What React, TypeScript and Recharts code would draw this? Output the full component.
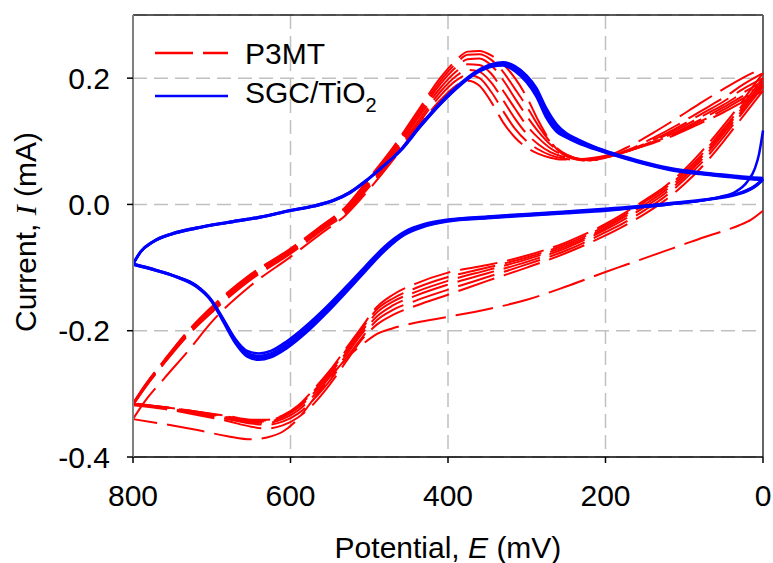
import React from 'react';
import { LineChart, Line, XAxis, YAxis, CartesianGrid, ReferenceLine } from 'recharts';

// potentials (mV) for each half sweep
const redUpE = [800, 785, 760, 730, 700, 650, 600, 560, 530, 500, 470, 440, 410, 390, 375, 360, 345, 330, 315, 300, 285, 270, 255, 240, 220, 200, 170, 140, 110, 80, 50, 25, 0];
const redDownE = [0, 15, 30, 50, 75, 100, 125, 150, 175, 200, 250, 300, 350, 400, 440, 470, 490, 510, 530, 550, 570, 590, 610, 630, 650, 680, 720, 760, 800];
const blueUpE = [800, 790, 775, 750, 720, 680, 640, 600, 570, 545, 525, 505, 485, 460, 435, 410, 385, 365, 345, 330, 315, 300, 288, 275, 262, 250, 235, 215, 190, 160, 120, 80, 40, 15, 0];
const blueDownE = [0, 5, 10, 20, 35, 55, 80, 120, 160, 200, 250, 300, 350, 400, 430, 455, 480, 505, 530, 555, 580, 605, 625, 640, 655, 670, 685, 700, 720, 745, 770, 800];

// P3MT currents (mA), sweep 0 -> 800
const p3mtDown1 = [-0.01, -0.024, -0.033, -0.042, -0.052, -0.063, -0.074, -0.085, -0.096, -0.107, -0.13, -0.151, -0.166, -0.178, -0.187, -0.196, -0.205, -0.223, -0.245, -0.275, -0.307, -0.339, -0.36, -0.369, -0.372, -0.367, -0.357, -0.348, -0.34];
const p3mtDown2 = [0.18, 0.156, 0.132, 0.1, 0.063, 0.032, 0.006, -0.015, -0.033, -0.049, -0.077, -0.1, -0.121, -0.143, -0.16, -0.175, -0.19, -0.215, -0.25, -0.285, -0.315, -0.337, -0.35, -0.355, -0.352, -0.343, -0.333, -0.324, -0.318];
const p3mtDown3 = [0.186, 0.163, 0.139, 0.107, 0.07, 0.039, 0.012, -0.009, -0.028, -0.044, -0.073, -0.095, -0.115, -0.135, -0.152, -0.167, -0.183, -0.212, -0.245, -0.279, -0.308, -0.331, -0.344, -0.349, -0.347, -0.34, -0.331, -0.323, -0.317];
const p3mtDown4 = [0.19, 0.167, 0.143, 0.112, 0.075, 0.043, 0.017, -0.004, -0.023, -0.04, -0.069, -0.091, -0.109, -0.127, -0.144, -0.16, -0.177, -0.206, -0.24, -0.273, -0.302, -0.326, -0.34, -0.346, -0.345, -0.338, -0.33, -0.322, -0.316];
const p3mtDown5 = [0.195, 0.171, 0.147, 0.116, 0.079, 0.047, 0.021, 0.0, -0.019, -0.037, -0.066, -0.087, -0.104, -0.121, -0.138, -0.154, -0.171, -0.202, -0.236, -0.269, -0.298, -0.322, -0.337, -0.344, -0.343, -0.337, -0.329, -0.321, -0.316];
const p3mtDown6 = [0.2, 0.176, 0.151, 0.12, 0.083, 0.051, 0.025, 0.004, -0.016, -0.034, -0.063, -0.084, -0.1, -0.115, -0.132, -0.149, -0.166, -0.198, -0.232, -0.266, -0.295, -0.32, -0.335, -0.342, -0.342, -0.336, -0.328, -0.321, -0.316];
const p3mtDown7 = [0.208, 0.183, 0.157, 0.125, 0.088, 0.055, 0.028, 0.007, -0.013, -0.031, -0.06, -0.081, -0.096, -0.108, -0.125, -0.143, -0.162, -0.195, -0.229, -0.263, -0.292, -0.318, -0.334, -0.341, -0.341, -0.335, -0.328, -0.321, -0.315];

// P3MT currents (mA), sweep 800 -> 0
const p3mtUp1 = [-0.34, -0.312, -0.275, -0.232, -0.186, -0.128, -0.083, -0.045, -0.017, 0.024, 0.07, 0.12, 0.165, 0.188, 0.196, 0.188, 0.162, 0.13, 0.106, 0.09, 0.08, 0.074, 0.071, 0.071, 0.073, 0.077, 0.086, 0.097, 0.111, 0.128, 0.146, 0.163, 0.18];
const p3mtUp2 = [-0.318, -0.291, -0.251, -0.207, -0.171, -0.119, -0.078, -0.041, -0.014, 0.028, 0.074, 0.124, 0.172, 0.196, 0.205, 0.2, 0.178, 0.148, 0.12, 0.1, 0.087, 0.078, 0.073, 0.071, 0.072, 0.076, 0.085, 0.098, 0.113, 0.131, 0.15, 0.168, 0.186];
const p3mtUp3 = [-0.317, -0.29, -0.25, -0.205, -0.169, -0.117, -0.076, -0.039, -0.011, 0.031, 0.077, 0.128, 0.178, 0.203, 0.213, 0.21, 0.193, 0.165, 0.136, 0.112, 0.095, 0.083, 0.076, 0.072, 0.071, 0.075, 0.085, 0.099, 0.115, 0.134, 0.154, 0.172, 0.19];
const p3mtUp4 = [-0.316, -0.289, -0.249, -0.204, -0.167, -0.115, -0.074, -0.037, -0.009, 0.034, 0.081, 0.133, 0.184, 0.21, 0.222, 0.221, 0.207, 0.18, 0.152, 0.125, 0.105, 0.089, 0.079, 0.073, 0.07, 0.074, 0.085, 0.1, 0.118, 0.138, 0.158, 0.177, 0.195];
const p3mtUp5 = [-0.316, -0.288, -0.248, -0.202, -0.165, -0.113, -0.072, -0.035, -0.007, 0.037, 0.084, 0.137, 0.19, 0.217, 0.23, 0.231, 0.22, 0.197, 0.168, 0.14, 0.115, 0.095, 0.082, 0.074, 0.07, 0.074, 0.086, 0.102, 0.121, 0.142, 0.163, 0.183, 0.2];
const p3mtUp6 = [-0.316, -0.287, -0.247, -0.201, -0.164, -0.111, -0.071, -0.034, -0.005, 0.04, 0.087, 0.141, 0.195, 0.223, 0.237, 0.238, 0.229, 0.21, 0.183, 0.155, 0.124, 0.099, 0.083, 0.074, 0.07, 0.074, 0.087, 0.105, 0.125, 0.147, 0.169, 0.19, 0.208];
const p3mtUp7 = [-0.315, -0.287, -0.246, -0.2, -0.162, -0.11, -0.07, -0.033, -0.004, 0.042, 0.09, 0.145, 0.2, 0.228, 0.242, 0.243, 0.236, 0.222, 0.2, 0.17, 0.132, 0.1, 0.08, 0.072, 0.069, 0.075, 0.092, 0.113, 0.136, 0.16, 0.183, 0.201, 0.216];

// SGC/TiO2 currents (mA)
const sgcDown1 = [0.117, 0.08, 0.058, 0.036, 0.02, 0.012, 0.007, 0.002, -0.003, -0.007, -0.011, -0.015, -0.019, -0.024, -0.031, -0.043, -0.066, -0.098, -0.131, -0.163, -0.192, -0.217, -0.232, -0.236, -0.232, -0.213, -0.182, -0.152, -0.128, -0.114, -0.104, -0.094];
const sgcDown2 = [0.039, 0.033, 0.028, 0.021, 0.015, 0.01, 0.006, 0.001, -0.004, -0.008, -0.012, -0.016, -0.02, -0.025, -0.033, -0.045, -0.069, -0.101, -0.134, -0.167, -0.196, -0.221, -0.236, -0.24, -0.235, -0.215, -0.183, -0.152, -0.128, -0.114, -0.104, -0.094];
const sgcDown3 = [0.04, 0.034, 0.029, 0.022, 0.016, 0.011, 0.006, 0.0, -0.005, -0.009, -0.013, -0.017, -0.021, -0.026, -0.034, -0.047, -0.071, -0.104, -0.137, -0.17, -0.2, -0.225, -0.239, -0.243, -0.238, -0.217, -0.185, -0.153, -0.129, -0.115, -0.105, -0.095];
const sgcDown4 = [0.041, 0.035, 0.03, 0.023, 0.016, 0.011, 0.006, 0.0, -0.005, -0.01, -0.014, -0.018, -0.022, -0.027, -0.035, -0.048, -0.073, -0.106, -0.14, -0.173, -0.203, -0.228, -0.242, -0.246, -0.241, -0.22, -0.187, -0.154, -0.13, -0.115, -0.105, -0.095];
const sgcUp1 = [-0.094, -0.074, -0.059, -0.046, -0.037, -0.028, -0.02, -0.009, -0.002, 0.007, 0.019, 0.037, 0.058, 0.085, 0.123, 0.158, 0.188, 0.207, 0.218, 0.22, 0.211, 0.193, 0.171, 0.137, 0.115, 0.106, 0.097, 0.088, 0.078, 0.067, 0.055, 0.048, 0.043, 0.04, 0.039];
const sgcUp2 = [-0.094, -0.074, -0.059, -0.046, -0.037, -0.028, -0.02, -0.009, -0.002, 0.007, 0.019, 0.037, 0.058, 0.086, 0.124, 0.159, 0.189, 0.208, 0.219, 0.222, 0.214, 0.197, 0.176, 0.142, 0.119, 0.108, 0.099, 0.089, 0.079, 0.068, 0.056, 0.049, 0.044, 0.041, 0.04];
const sgcUp3 = [-0.095, -0.075, -0.06, -0.047, -0.038, -0.029, -0.021, -0.01, -0.003, 0.006, 0.018, 0.036, 0.057, 0.086, 0.125, 0.16, 0.19, 0.209, 0.221, 0.224, 0.217, 0.201, 0.181, 0.147, 0.123, 0.111, 0.101, 0.091, 0.08, 0.069, 0.057, 0.05, 0.045, 0.042, 0.041];
const sgcUp4 = [-0.095, -0.075, -0.06, -0.047, -0.038, -0.029, -0.021, -0.01, -0.003, 0.006, 0.018, 0.036, 0.057, 0.087, 0.126, 0.161, 0.191, 0.21, 0.222, 0.225, 0.219, 0.204, 0.185, 0.152, 0.127, 0.113, 0.103, 0.092, 0.081, 0.07, 0.058, 0.051, 0.046, 0.043, 0.042];

const xTicks = [0, 200, 400, 600, 800];
const yTicks = [-0.4, -0.2, 0, 0.2];

const FONT = '"Liberation Sans", Arial, sans-serif';

const toPoints = (es: number[], cur: number[]) => es.map((e, n) => ({ e, i: cur[n] }));

// cycles in scan order: down (0->800) then up (800->0)
const redSegments = [
  toPoints(redDownE, p3mtDown1), toPoints(redUpE, p3mtUp1),
  toPoints(redDownE, p3mtDown2), toPoints(redUpE, p3mtUp2),
  toPoints(redDownE, p3mtDown3), toPoints(redUpE, p3mtUp3),
  toPoints(redDownE, p3mtDown4), toPoints(redUpE, p3mtUp4),
  toPoints(redDownE, p3mtDown5), toPoints(redUpE, p3mtUp5),
  toPoints(redDownE, p3mtDown6), toPoints(redUpE, p3mtUp6),
  toPoints(redDownE, p3mtDown7), toPoints(redUpE, p3mtUp7),
];

const blueSegments = [
  toPoints(blueDownE, sgcDown1), toPoints(blueUpE, sgcUp1),
  toPoints(blueDownE, sgcDown2), toPoints(blueUpE, sgcUp2),
  toPoints(blueDownE, sgcDown3), toPoints(blueUpE, sgcUp3),
  toPoints(blueDownE, sgcDown4), toPoints(blueUpE, sgcUp4),
];

const XTitle = (props: any) => {
  const { x, y, width } = props.viewBox;
  return (
    <text x={x + width / 2} y={y + 101} textAnchor="middle" fontSize={30} fontFamily={FONT} fill="#000">
      Potential, <tspan fontStyle="italic">E</tspan> (mV)
    </text>
  );
};

const YTitle = (props: any) => {
  const { y, height } = props.viewBox;
  const cy = y + height / 2 - 4;
  return (
    <text transform={`translate(36,${cy}) rotate(-90)`} textAnchor="middle" fontSize={30} fontFamily={FONT} fill="#000">
      Current, <tspan fontStyle="italic" fontFamily='"Liberation Serif", "Times New Roman", serif'>I</tspan> (mA)
    </text>
  );
};

const LegendBox = () => (
  <svg width={773} height={563} style={{ position: 'absolute', left: 0, top: 0, pointerEvents: 'none' }}>
    <line x1={155} x2={228} y1={53} y2={53} stroke="#ff0000" strokeWidth={2.5} strokeDasharray="38 10" />
    <text x={245} y={64} fontSize={30} fontFamily={FONT} fill="#000">P3MT</text>
    <line x1={155} x2={228} y1={96} y2={96} stroke="#0000ff" strokeWidth={2.5} />
    <text x={245} y={103} fontSize={30} fontFamily={FONT} fill="#000">
      SGC/TiO<tspan fontSize={20} dy={9}>2</tspan>
    </text>
  </svg>
);

export default function App() {
  return (
    <div style={{ position: 'relative', width: 773, height: 563 }}>
      <style>{'body { margin: 0; }'}</style>
      <LineChart width={773} height={563} margin={{ top: 15, right: 10, bottom: 0, left: 0 }}>
        <CartesianGrid stroke="#c0c0c0" strokeWidth={1.5} strokeDasharray="14 7" />
        <XAxis
          type="number"
          dataKey="e"
          domain={[0, 800]}
          ticks={xTicks}
          reversed
          height={106}
          tickSize={6}
          tickMargin={22}
          axisLine={{ stroke: '#000', strokeWidth: 1.5 }}
          tickLine={{ stroke: '#000', strokeWidth: 1.5 }}
          tick={{ fontSize: 30, fill: '#000', fontFamily: FONT }}
          label={<XTitle />}
        />
        <YAxis
          type="number"
          dataKey="i"
          domain={[-0.4, 0.3]}
          ticks={yTicks}
          width={133}
          tickSize={6}
          tickMargin={17}
          tickFormatter={(v: number) => v.toFixed(1)}
          axisLine={{ stroke: '#808080', strokeWidth: 2 }}
          tickLine={{ stroke: '#000', strokeWidth: 1.5 }}
          tick={{ fontSize: 30, fill: '#000', fontFamily: FONT }}
          label={<YTitle />}
        />
        <ReferenceLine y={0.3} stroke="#222" strokeWidth={1.5} />
        <ReferenceLine x={0} stroke="#666" strokeWidth={2} />
        {redSegments.map((seg, n) => (
          <Line
            key={`p3mt-${n}`}
            data={seg}
            dataKey="i"
            type="monotone"
            stroke="#ff0000"
            strokeWidth={2}
            strokeDasharray="38 10"
            dot={false}
            activeDot={false}
            isAnimationActive={false}
          />
        ))}
        {blueSegments.map((seg, n) => (
          <Line
            key={`sgc-${n}`}
            data={seg}
            dataKey="i"
            type="monotone"
            stroke="#0000ff"
            strokeWidth={2.5}
            dot={false}
            activeDot={false}
            isAnimationActive={false}
          />
        ))}
      </LineChart>
      <LegendBox />
    </div>
  );
}
